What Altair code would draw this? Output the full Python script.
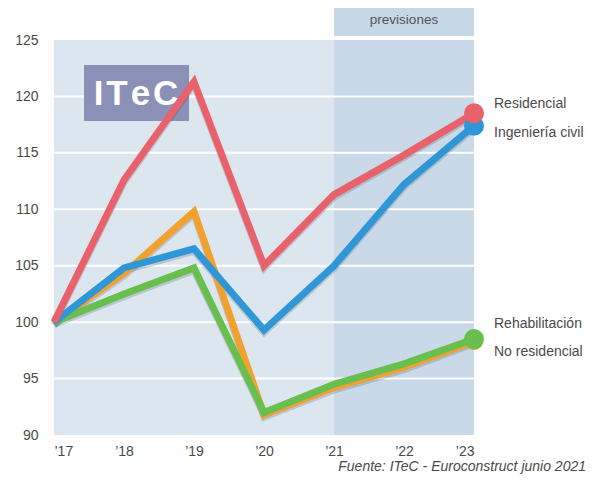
import altair as alt
import pandas as pd

years = [2017, 2018, 2019, 2020, 2021, 2022, 2023]
residencial = [100, 112.6, 121.3, 105.0, 111.3, 114.8, 118.5]
ingenieria = [100, 104.8, 106.5, 99.3, 105.0, 112.2, 117.4]
no_residencial = [100, 104.3, 109.8, 91.8, 94.2, 96.0, 98.3]
rehabilitacion = [100, 102.5, 104.8, 92.0, 94.5, 96.3, 98.5]

series_names = ["No residencial", "Rehabilitación", "Ingeniería civil", "Residencial"]
series_values = [no_residencial, rehabilitacion, ingenieria, residencial]
series_colors = ["#f2a02e", "#69bf4e", "#2f96d7", "#e9616b"]
label_dy = [11, -15, 7, -9]
dot_sizes = [300, 400, 400, 400]

y_ticks = [90, 95, 100, 105, 110, 115, 120, 125]
grid_values = [95, 100, 105, 110, 115, 120]
forecast_start, forecast_end = 2021, 2023

W, H = 420, 395
FONT = "Liberation Sans"
TXT = "#4a4a4a"

rows = []
for name, vals in zip(series_names, series_values):
    for yr, v in zip(years, vals):
        rows.append({"year": yr, "value": v, "serie": name})
df = pd.DataFrame(rows)

xs = alt.Scale(domain=[2017, 2023], nice=False, zero=False)
ys = alt.Scale(domain=[90, 125], nice=False, zero=False)

x_axis = alt.Axis(values=years, labelExpr="'\u2019' + substring(toString(datum.value), 2)",
                  labelFontSize=14, labelColor=TXT, labelFont=FONT,
                  ticks=False, domain=False, grid=False, labelPadding=9, title=None)
y_axis = alt.Axis(values=y_ticks, labelFontSize=14, labelColor=TXT, labelFont=FONT,
                  ticks=False, domain=False, grid=False, labelPadding=16, title=None)

# whole plot background
bg = alt.Chart(pd.DataFrame({"a": [0]})).mark_rect(color="#dce6ef").encode(
    x=alt.value(0), x2=alt.value(W), y=alt.value(0), y2=alt.value(H)
)

# forecast band (plot body)
band_df = pd.DataFrame({"x": [forecast_start], "x2": [forecast_end]})
band = alt.Chart(band_df).mark_rect(color="#c9d9e7").encode(
    x=alt.X("x:Q", scale=xs, axis=x_axis),
    x2="x2:Q",
    y=alt.value(0), y2=alt.value(H),
)
header = alt.Chart(band_df).mark_rect(color="#c6d7e6").encode(
    x=alt.X("x:Q", scale=xs), x2="x2:Q",
    y=alt.value(-35), y2=alt.value(-4),
)
header_text = alt.Chart(pd.DataFrame({"t": ["previsiones"], "x": [(forecast_start + forecast_end) / 2]})).mark_text(
    fontSize=13.5, color="#555555", font=FONT, baseline="middle"
).encode(x=alt.X("x:Q", scale=xs), y=alt.value(-20), text="t:N")

grid = alt.Chart(pd.DataFrame({"v": grid_values})).mark_rule(color="white", strokeWidth=2).encode(
    y=alt.Y("v:Q", scale=ys, axis=y_axis)
)

# logo
logo_box = alt.Chart(pd.DataFrame({"a": [0]})).mark_rect(color="#8b90b6").encode(
    x=alt.value(30), x2=alt.value(135), y=alt.value(25), y2=alt.value(81)
)
logo_text = alt.Chart(pd.DataFrame({"t": ["I\u200aT\u200ae\u200aC"]})).mark_text(
    fontSize=35, fontWeight="bold", color="white", font=FONT, baseline="middle", align="center"
).encode(x=alt.value(82), y=alt.value(54), text="t:N")

shadow = alt.Chart(df).transform_calculate(sv="datum.value - 0.22").mark_line(
    strokeWidth=7, color="#203040", opacity=0.18, strokeJoin="miter"
).encode(
    x=alt.X("year:Q", scale=xs), y=alt.Y("sv:Q", scale=ys), detail="serie:N",
    order="year:Q",
)

layers = [bg, band, header, header_text, grid, logo_box, logo_text, shadow]
for name, col in zip(series_names, series_colors):
    sub = df[df.serie == name]
    line = alt.Chart(sub).mark_line(strokeWidth=7, color=col, strokeJoin="miter").encode(
        x=alt.X("year:Q", scale=xs), y=alt.Y("value:Q", scale=ys), order="year:Q"
    )
    layers.append(line)
for name, col, dy, sz in zip(series_names, series_colors, label_dy, dot_sizes):
    sub = df[(df.serie == name) & (df.year == years[-1])]
    dot = alt.Chart(sub).mark_circle(size=sz, color=col, opacity=1).encode(
        x=alt.X("year:Q", scale=xs), y=alt.Y("value:Q", scale=ys)
    )
    lab = alt.Chart(sub).mark_text(align="left", baseline="middle", dx=20, dy=dy,
                                   fontSize=14, color=TXT, font=FONT).encode(
        x=alt.X("year:Q", scale=xs), y=alt.Y("value:Q", scale=ys), text="serie:N"
    )
    layers += [dot, lab]

foot = alt.Chart(pd.DataFrame({"t": ["Fuente: ITeC - Euroconstruct junio 2021"]})).mark_text(
    align="right", baseline="middle", fontSize=14, fontStyle="italic", color=TXT, font=FONT
).encode(x=alt.value(532), y=alt.value(427), text="t:N")
layers.append(foot)

chart = alt.layer(*layers).properties(
    width=W, height=H,
    background="white",
    autosize=alt.AutoSizeParams(type="none"),
    padding={"left": 46, "top": 32, "right": 115, "bottom": 43},
).configure_view(stroke=None)

chart.save("out.html", embed_options={"renderer": "svg", "actions": False})
